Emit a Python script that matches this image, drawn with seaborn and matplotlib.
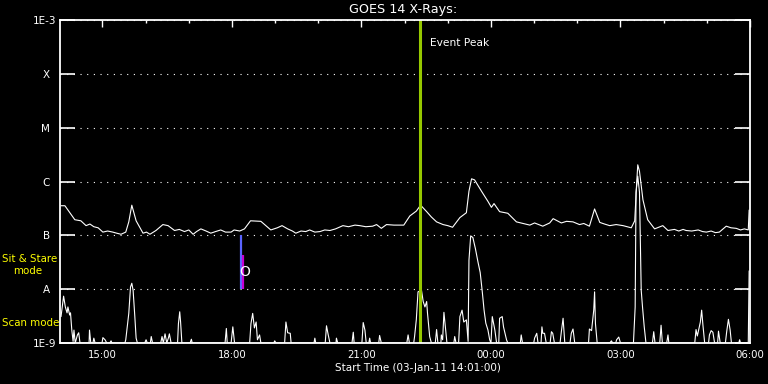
import matplotlib
matplotlib.use("Agg")
import matplotlib.pyplot as plt
import seaborn as sns
import pandas as pd
import numpy as np

# ---------------- data (hour of day, log10 flux) ----------------
long_hours = [14.04, 14.13, 14.36, 14.50, 14.62, 14.71, 14.80, 14.90, 15.01, 15.12,
              15.24, 15.33, 15.43, 15.54, 15.61, 15.68, 15.78, 15.94, 16.02, 16.10,
              16.24, 16.40, 16.52, 16.67, 16.78, 16.90, 17.00, 17.10, 17.18, 17.28,
              17.40, 17.51, 17.62, 17.74, 17.85, 17.98, 18.05, 18.18, 18.29, 18.43,
              18.67, 18.90, 19.05, 19.16, 19.29, 19.40, 19.48, 19.60, 19.71, 19.80,
              19.92, 20.04, 20.15, 20.27, 20.40, 20.57, 20.70, 20.85, 20.96, 21.10,
              21.26, 21.35, 21.46, 21.58, 21.75, 21.98, 22.12, 22.27, 22.37, 22.51,
              22.62, 22.74, 22.89, 23.00, 23.11, 23.28, 23.43, 23.49, 23.55, 23.62,
              23.78, 23.93, 24.01, 24.07, 24.20, 24.39, 24.59, 24.75, 24.90, 25.01,
              25.20, 25.36, 25.44, 25.63, 25.75, 25.90, 26.05, 26.15, 26.28, 26.40,
              26.52, 26.63, 26.75, 26.90, 27.06, 27.25, 27.33, 27.37, 27.40, 27.44,
              27.52, 27.63, 27.79, 27.98, 28.10, 28.25, 28.35, 28.45, 28.52, 28.65,
              28.80, 28.90, 28.99, 29.10, 29.20, 29.29, 29.45, 29.56, 29.68, 29.78,
              29.87, 29.96, 29.98]
long_flux = [-6.45, -6.45, -6.71, -6.73, -6.82, -6.79, -6.84, -6.86, -6.94, -6.92,
             -6.94, -6.96, -6.98, -6.94, -6.75, -6.44, -6.73, -6.96, -6.94, -6.98,
             -6.91, -6.80, -6.82, -6.91, -6.89, -6.93, -6.90, -6.98, -6.93, -6.88,
             -6.92, -6.96, -6.93, -6.90, -6.94, -6.94, -6.90, -6.92, -6.88, -6.73,
             -6.74, -6.90, -6.86, -6.82, -6.88, -6.92, -6.96, -6.92, -6.93, -6.90,
             -6.94, -6.93, -6.90, -6.91, -6.88, -6.82, -6.84, -6.81, -6.82, -6.84,
             -6.83, -6.80, -6.87, -6.80, -6.81, -6.81, -6.64, -6.55, -6.44, -6.56,
             -6.66, -6.75, -6.80, -6.82, -6.85, -6.67, -6.58, -6.18, -5.95, -5.97,
             -6.18, -6.37, -6.48, -6.41, -6.56, -6.59, -6.75, -6.78, -6.81, -6.77,
             -6.83, -6.77, -6.69, -6.77, -6.74, -6.75, -6.80, -6.78, -6.83, -6.51,
             -6.76, -6.79, -6.82, -6.80, -6.82, -6.86, -6.73, -6.10, -5.69, -5.81,
             -6.34, -6.71, -6.88, -6.82, -6.91, -6.89, -6.92, -6.89, -6.91, -6.92,
             -6.90, -6.93, -6.94, -6.92, -6.95, -6.94, -6.83, -6.86, -6.87, -6.90,
             -6.88, -6.90, -6.53]

short_hours = [14.04, 14.10, 14.14, 14.18, 14.20, 14.24, 14.26, 14.29, 14.32, 14.34,
               14.37, 14.42, 14.45, 14.48, 14.69, 14.70, 14.73, 14.78, 14.80, 14.83,
               14.99, 15.01, 15.06, 15.10, 15.17, 15.20, 15.22, 15.52, 15.54, 15.61,
               15.65, 15.68, 15.71, 15.75, 15.78, 15.81, 15.98, 16.01, 16.04, 16.11,
               16.13, 16.16, 16.35, 16.38, 16.41, 16.45, 16.49, 16.53, 16.55, 16.59,
               16.74, 16.76, 16.79, 16.81, 16.84, 17.03, 17.06, 17.08, 17.84, 17.87,
               17.89, 17.98, 18.02, 18.06, 18.41, 18.44, 18.48, 18.52, 18.56, 18.59,
               18.64, 18.67, 18.97, 18.99, 19.02, 19.22, 19.25, 19.29, 19.35, 19.37,
               19.90, 19.92, 19.94, 20.16, 20.19, 20.23, 20.27, 20.41, 20.42, 20.45,
               20.78, 20.81, 20.83, 21.01, 21.04, 21.08, 21.11, 21.17, 21.19, 21.21,
               21.40, 21.42, 21.46, 22.05, 22.08, 22.11, 22.21, 22.23, 22.27, 22.31,
               22.39, 22.43, 22.47, 22.51, 22.53, 22.58, 22.62, 22.71, 22.74, 22.77,
               22.84, 22.85, 22.88, 22.91, 22.95, 22.98, 23.14, 23.16, 23.19, 23.25,
               23.28, 23.33, 23.37, 23.43, 23.47, 23.49, 23.53, 23.58, 23.64, 23.70,
               23.75, 23.80, 23.84, 23.88, 23.93, 23.97, 24.00, 24.03, 24.09, 24.13,
               24.18, 24.20, 24.26, 24.29, 24.36, 24.39, 24.68, 24.70, 24.73, 24.99,
               25.01, 25.06, 25.09, 25.16, 25.18, 25.20, 25.24, 25.28, 25.37, 25.40,
               25.43, 25.47, 25.60, 25.63, 25.67, 25.71, 25.83, 25.86, 25.90, 25.94,
               26.26, 26.28, 26.33, 26.38, 26.40, 26.42, 26.46, 26.75, 26.79, 26.82,
               26.89, 26.91, 26.96, 27.00, 27.30, 27.34, 27.36, 27.40, 27.44, 27.48,
               27.51, 27.55, 27.59, 27.74, 27.77, 27.80, 27.91, 27.94, 27.97, 28.07,
               28.10, 28.12, 28.72, 28.75, 28.78, 28.85, 28.88, 28.91, 28.95, 29.04,
               29.06, 29.10, 29.14, 29.18, 29.25, 29.27, 29.31, 29.43, 29.46, 29.50,
               29.54, 29.57, 29.74, 29.76, 29.78, 29.96, 29.98]
short_flux = [-8.51, -8.13, -8.33, -8.44, -8.33, -8.48, -8.44, -8.76, -8.97, -8.76,
              -9.00, -8.85, -8.81, -9.00, -9.00, -8.76, -9.00, -9.00, -8.91, -9.00,
              -9.00, -8.90, -8.94, -9.00, -9.00, -8.96, -9.00, -9.00, -8.94, -8.45,
              -7.96, -7.89, -8.02, -8.51, -8.91, -9.00, -9.00, -8.94, -9.00, -9.00,
              -8.88, -9.00, -9.00, -8.88, -9.00, -8.83, -9.00, -8.90, -8.83, -9.00,
              -9.00, -8.64, -8.42, -8.61, -9.00, -9.00, -8.93, -9.00, -9.00, -8.73,
              -9.00, -9.00, -8.70, -9.00, -9.00, -8.64, -8.45, -8.72, -8.61, -8.94,
              -8.85, -9.00, -9.00, -8.96, -9.00, -9.00, -8.61, -8.81, -8.82, -9.00,
              -9.00, -8.91, -9.00, -9.00, -8.68, -8.85, -9.00, -9.00, -8.91, -9.00,
              -9.00, -8.80, -9.00, -9.00, -8.62, -8.76, -9.00, -9.00, -8.91, -9.00,
              -9.00, -8.86, -9.00, -9.00, -8.85, -9.00, -9.00, -8.88, -8.57, -8.05,
              -8.02, -8.23, -8.33, -8.23, -8.45, -8.88, -9.00, -9.00, -8.75, -9.00,
              -9.00, -8.85, -8.94, -8.43, -8.76, -9.00, -9.00, -8.88, -9.00, -9.00,
              -8.51, -8.39, -8.61, -8.57, -8.97, -7.46, -7.01, -7.04, -7.25, -7.50,
              -7.69, -8.06, -8.39, -8.63, -8.76, -8.94, -9.00, -8.51, -8.76, -9.00,
              -9.00, -8.54, -8.51, -8.70, -8.94, -9.00, -9.00, -8.85, -9.00, -9.00,
              -8.91, -8.82, -9.00, -9.00, -8.70, -8.82, -8.82, -9.00, -9.00, -8.79,
              -8.82, -9.00, -9.00, -8.79, -8.54, -9.00, -9.00, -8.82, -8.74, -9.00,
              -9.00, -8.74, -8.77, -8.39, -8.05, -8.64, -9.00, -9.00, -8.96, -9.00,
              -9.00, -8.94, -8.89, -9.00, -9.00, -8.33, -6.20, -5.90, -6.20, -8.02,
              -8.33, -8.70, -9.00, -9.00, -8.79, -9.00, -9.00, -8.67, -9.00, -9.00,
              -8.85, -9.00, -9.00, -8.75, -8.87, -8.61, -8.39, -8.67, -9.00, -9.00,
              -8.85, -8.77, -8.80, -9.00, -9.00, -8.78, -9.00, -9.00, -8.79, -8.56,
              -8.76, -9.00, -9.00, -8.94, -9.00, -9.00, -7.66]

level_values = [-9, -8, -7, -6, -5, -4, -3]
level_labels = ["1E-9", "A  ", "B  ", "C  ", "M  ", "X  ", "1E-3"]
x_major = [15, 18, 21, 24, 27, 30]
x_major_labels = ["15:00", "18:00", "21:00", "00:00", "03:00", "06:00"]
x_minor = list(range(15, 30))
x_start, x_end = 14 + 1 / 60, 30.0

event_peak_hour = 22.35
sit_stare_hour = 18.21
sit_stare_span = [-8.0, -7.0]
stare_obs_hour = 18.245
stare_obs_span = [-8.0, -7.37]

# ---------------- style ----------------
sns.set_style("ticks")
plt.rcParams.update({
    "figure.facecolor": "black",
    "axes.facecolor": "black",
    "savefig.facecolor": "black",
    "axes.edgecolor": "white",
    "text.color": "white",
    "xtick.color": "white",
    "ytick.color": "white",
    "axes.labelcolor": "white",
})
plt.rcParams["font.family"] = ["DejaVu Sans"]

fig = plt.figure(figsize=(7.68, 3.84), dpi=100)
ax = fig.add_axes([60 / 768, 41 / 384, 690 / 768, 323 / 384])

long_df = pd.DataFrame({"hour": long_hours, "flux": long_flux})
short_df = pd.DataFrame({"hour": short_hours, "flux": short_flux})

ax.grid(axis="y", color="white", linestyle=(0, (1, 5)), linewidth=0.8)
ax.grid(axis="x", visible=False)

sns.lineplot(data=long_df, x="hour", y="flux", estimator=None, sort=False,
             color="white", linewidth=0.8, ax=ax)
sns.lineplot(data=short_df, x="hour", y="flux", estimator=None, sort=False,
             color="white", linewidth=0.8, ax=ax)

ax.axvline(event_peak_hour, color="#96c800", linewidth=2.2)
ax.vlines(sit_stare_hour, *sit_stare_span, color="#5a64ff", linewidth=1.6)
ax.vlines(stare_obs_hour, *stare_obs_span, color="#c800d2", linewidth=1.6)

ax.set_xlim(x_start, x_end)
ax.set_ylim(-9, -3)
ax.set_xticks(x_major)
ax.set_xticklabels(x_major_labels)
ax.set_xticks(x_minor, minor=True)
ax.set_yticks(level_values)
ax.set_yticklabels(level_labels)
ax.set_xlabel("")
ax.set_ylabel("")

ax.tick_params(axis="x", which="both", bottom=False, top=True, labelbottom=True,
               direction="in", labelsize=7.3, pad=5)
ax.tick_params(axis="x", which="major", length=5, width=1)
ax.tick_params(axis="x", which="minor", length=2.3, width=1)
ax.tick_params(axis="y", left=True, right=True, direction="in", length=10.5,
               width=1.2, labelsize=7.5, pad=2.5)

for sp in ax.spines.values():
    sp.set_visible(True)
    sp.set_color("white")
    sp.set_linewidth(1.3)

# text
fig.text(403 / 768, 1 - 10 / 384, "GOES 14 X-Rays:", ha="center", va="center",
         fontsize=9.2, color="white")
fig.text(418 / 768, 1 - 368 / 384, "Start Time (03-Jan-11 14:01:00)", ha="center",
         va="center", fontsize=7.5, color="white")
fig.text(430 / 768, 1 - 43 / 384, "Event Peak", ha="left", va="center",
         fontsize=7.7, color="white")
fig.text(245 / 768, 1 - 272 / 384, "O", ha="center", va="center",
         fontsize=10, color="white")
fig.text(2 / 768, 1 - 258.5 / 384, "Sit & Stare", ha="left", va="center",
         fontsize=7.4, color="yellow")
fig.text(13 / 768, 1 - 271 / 384, "mode", ha="left", va="center",
         fontsize=7.4, color="yellow")
fig.text(2 / 768, 1 - 323.5 / 384, "Scan mode", ha="left", va="center",
         fontsize=7.4, color="yellow")

fig.savefig("out.png", dpi=100, facecolor="black")
